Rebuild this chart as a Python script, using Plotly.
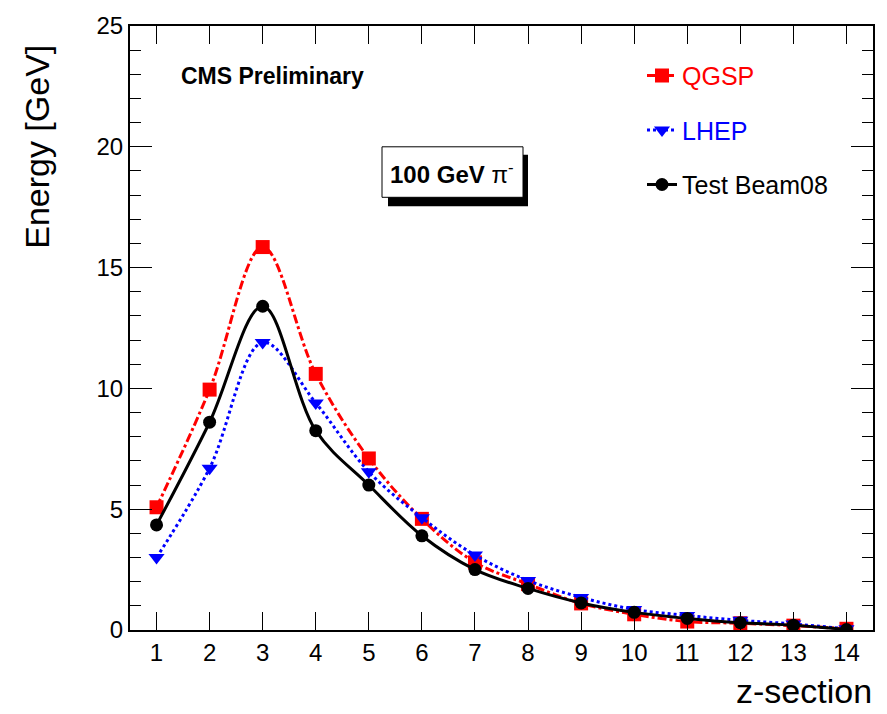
import plotly.graph_objects as go

z_section = list(range(1, 15))
qgsp = [5.08, 9.95, 15.85, 10.6, 7.1, 4.6, 2.8, 1.9, 1.1, 0.65, 0.35, 0.28, 0.18, 0.05]
lhep = [3.0, 6.7, 11.9, 9.4, 6.55, 4.65, 3.1, 2.05, 1.35, 0.85, 0.6, 0.4, 0.25, 0.05]
test_beam = [4.35, 8.6, 13.4, 8.25, 6.0, 3.9, 2.5, 1.72, 1.12, 0.73, 0.48, 0.3, 0.2, 0.02]

W, H = 887, 714
L, R, T, B = 130, 873, 20, 630


def px(x):
    return (x - L) / (R - L)


def py(y):
    return (B - y) / (B - T)


FONT = "Liberation Sans, Arial, Helvetica, sans-serif"

fig = go.Figure()
fig.add_trace(go.Scatter(
    x=z_section, y=qgsp, mode="lines+markers", line_shape="spline",
    name="<span style='color:#ff0000'>QGSP</span>", legendgroup="a",
    line=dict(color="#ff0000", width=3, dash="dashdot"),
    marker=dict(symbol="square", size=14, color="#ff0000")))
fig.add_trace(go.Scatter(
    x=z_section, y=lhep, mode="lines+markers", line_shape="spline",
    name="<span style='color:#0000ff'>LHEP</span>", legendgroup="b",
    line=dict(color="#0000ff", width=3, dash="dot"),
    marker=dict(symbol="triangle-down", size=14, color="#0000ff")))
fig.add_trace(go.Scatter(
    x=z_section, y=test_beam, mode="lines+markers", line_shape="spline",
    name="Test Beam08", legendgroup="c",
    line=dict(color="#000000", width=3),
    marker=dict(symbol="circle", size=13, color="#000000")))

fig.update_layout(
    width=W, height=H,
    margin=dict(l=L, r=W - R, t=T, b=H - B),
    paper_bgcolor="white", plot_bgcolor="white",
    font=dict(family=FONT, color="black", size=24),
    showlegend=True,
    legend=dict(x=px(642), y=py(47), xanchor="left", yanchor="top",
                bgcolor="rgba(0,0,0,0)", font=dict(size=25, family=FONT),
                tracegroupgap=19, itemwidth=30),
    xaxis=dict(range=[0.5, 14.5], tickmode="array", tickvals=z_section,
               ticks="inside", ticklen=18, tickwidth=1, tickcolor="black",
               showline=True, linewidth=2, linecolor="black", mirror="ticks",
               showgrid=False, zeroline=False,
               tickfont=dict(size=24, family=FONT)),
    yaxis=dict(range=[0, 25], dtick=5, tick0=0,
               ticks="inside", ticklen=22, tickwidth=1, tickcolor="black",
               minor=dict(ticks="inside", ticklen=11, dtick=1, tickcolor="black", tickwidth=1),
               showline=True, linewidth=2, linecolor="black", mirror="ticks",
               showgrid=False, zeroline=False,
               tickfont=dict(size=24, family=FONT)),
    shapes=[
        dict(type="rect", xref="paper", yref="paper",
             x0=px(388), x1=px(528), y0=py(150), y1=py(202),
             fillcolor="black", line=dict(width=0), layer="above"),
        dict(type="rect", xref="paper", yref="paper",
             x0=px(382), x1=px(523), y0=py(142), y1=py(193),
             fillcolor="white", line=dict(color="black", width=1), layer="above"),
    ],
    annotations=[
        dict(text="Energy [GeV]", xref="paper", yref="paper",
             x=px(37), y=py(142), textangle=-90, showarrow=False,
             xanchor="center", yanchor="middle",
             font=dict(size=34, family=FONT)),
        dict(text="z-section", xref="paper", yref="paper",
             x=px(874), y=py(692), showarrow=False,
             xanchor="right", yanchor="middle",
             font=dict(size=34, family=FONT)),
        dict(text="<b>CMS Preliminary</b>", xref="paper", yref="paper",
             x=px(179), y=py(71), showarrow=False,
             xanchor="left", yanchor="middle",
             font=dict(size=23, family=FONT)),
        dict(text="<b>100 GeV</b> π<sup>-</sup>", xref="paper", yref="paper",
             x=px(452), y=py(168), showarrow=False,
             xanchor="center", yanchor="middle",
             font=dict(size=24, family=FONT)),
    ],
)

fig.write_html("out.html")
